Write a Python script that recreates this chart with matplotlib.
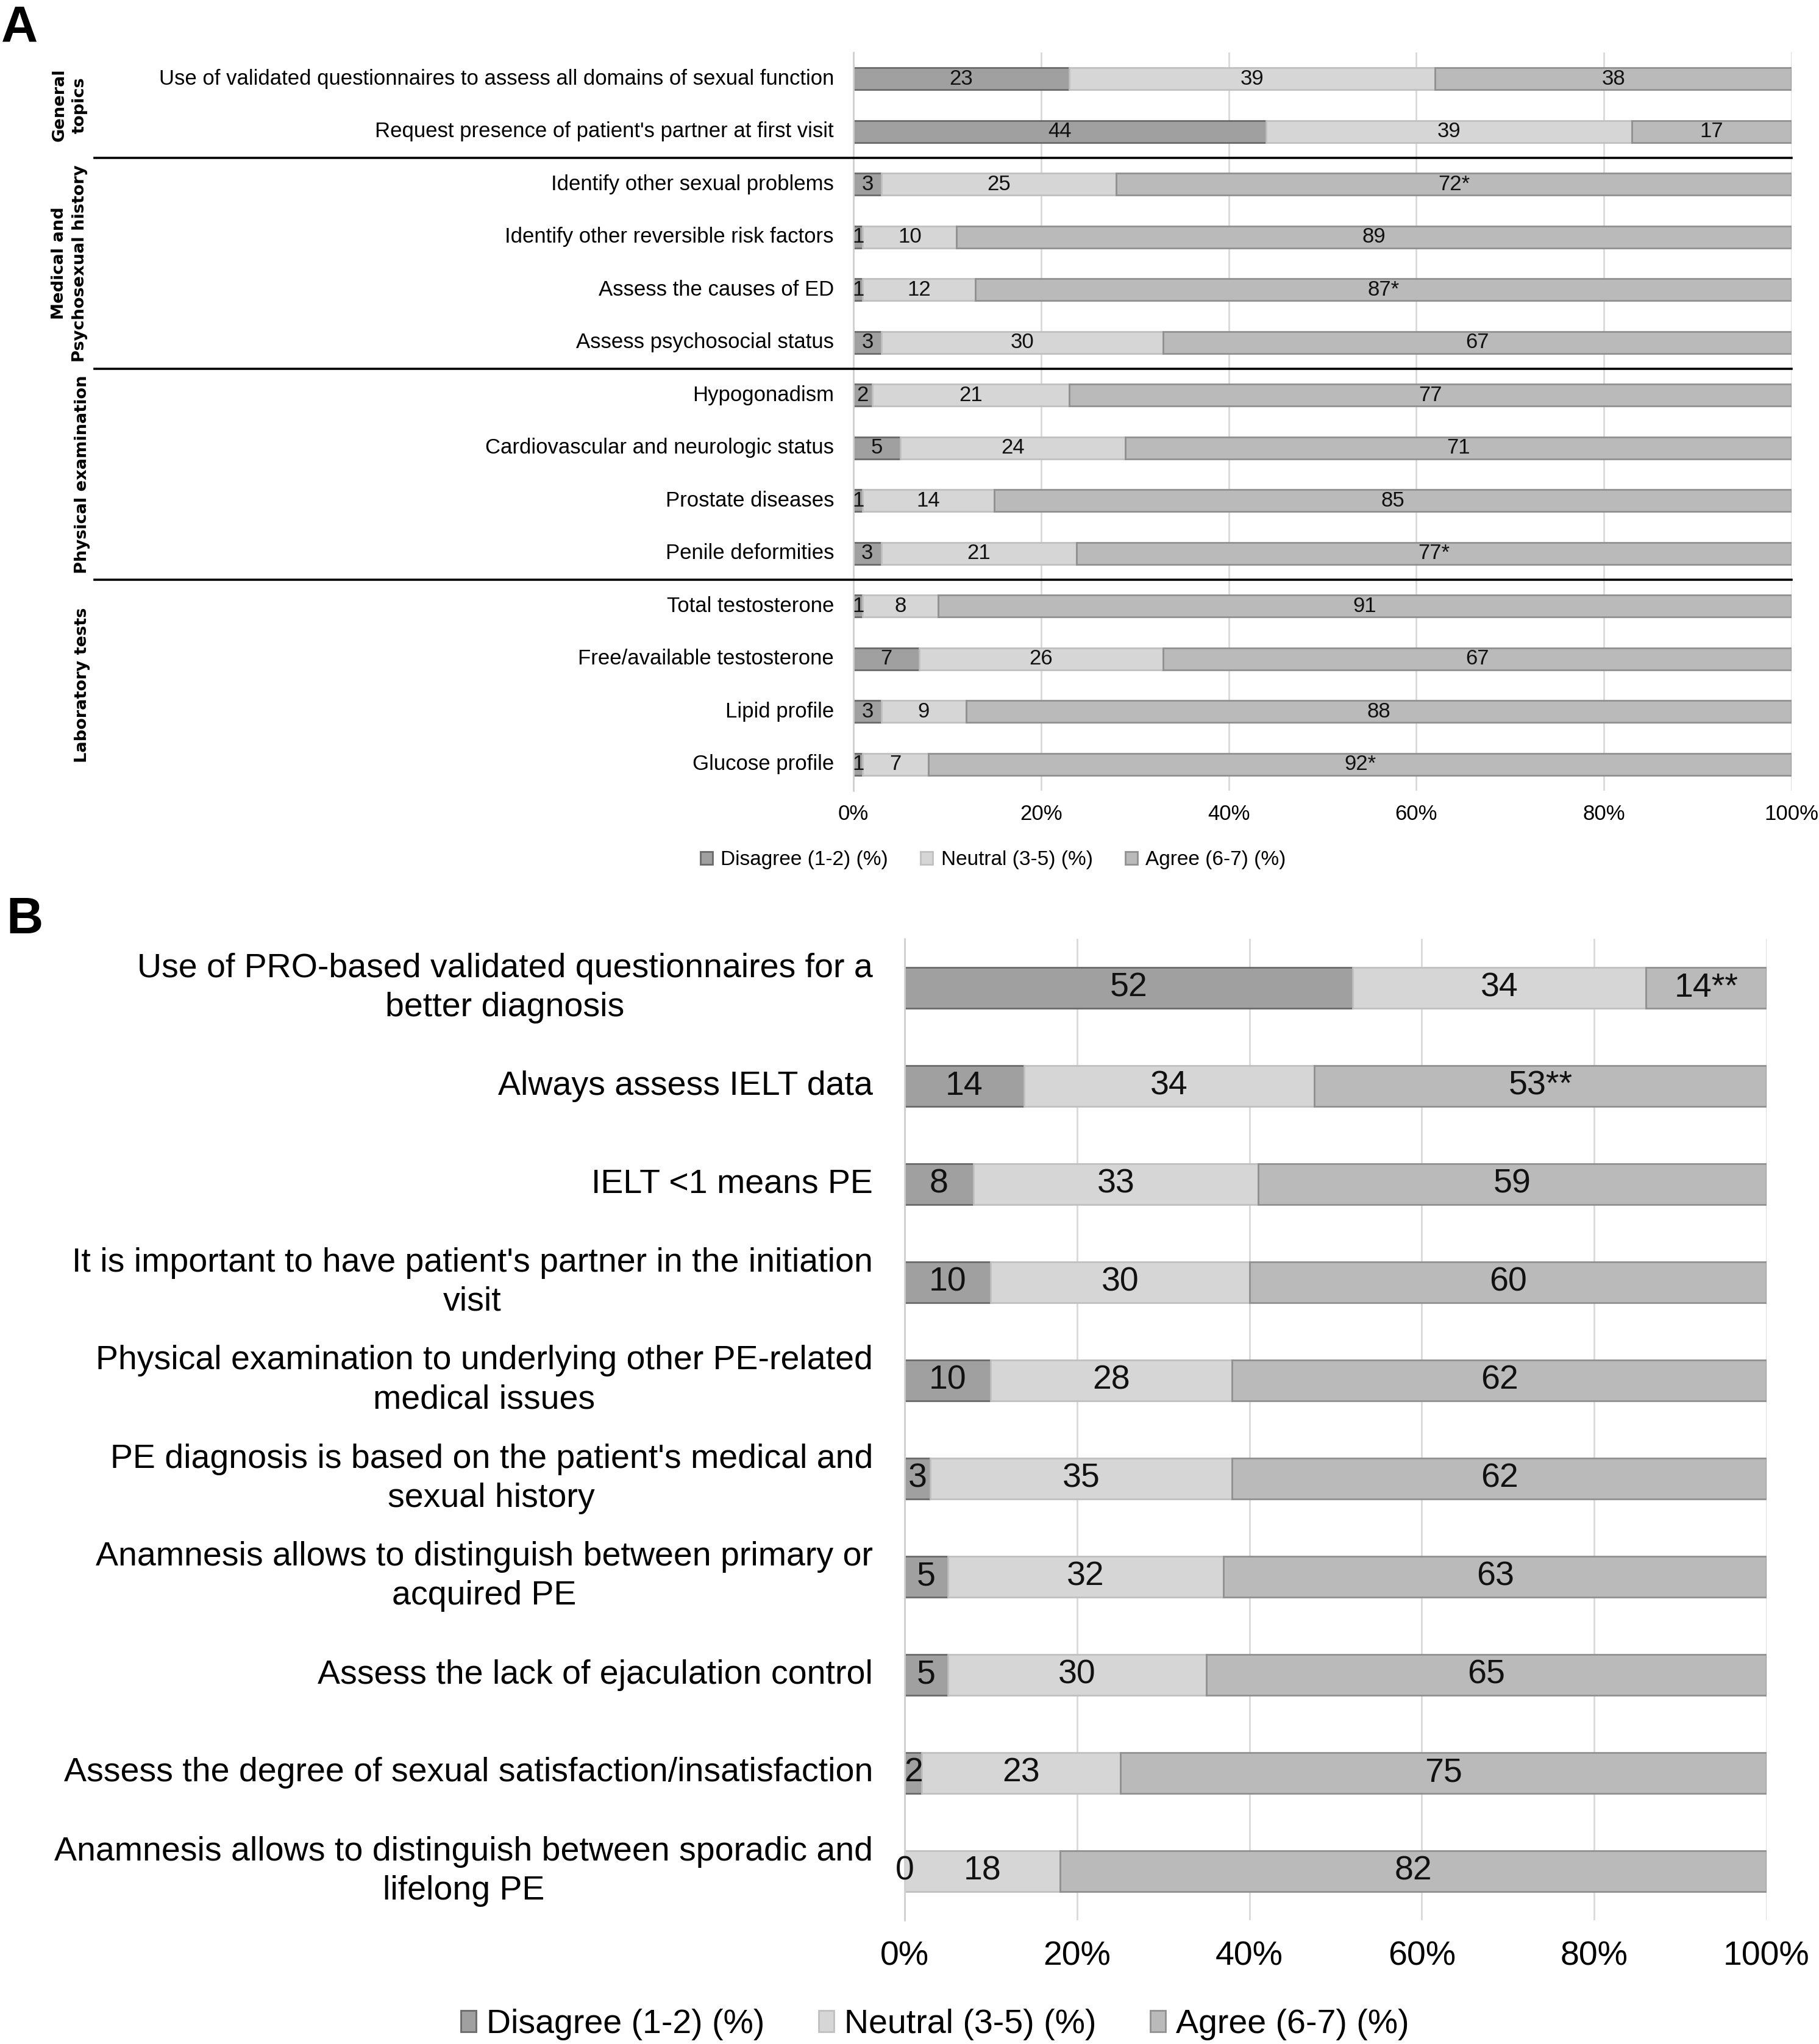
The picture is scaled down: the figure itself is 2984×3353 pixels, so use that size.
import matplotlib.pyplot as plt
from matplotlib.patches import Patch
import numpy as np

W, H = 2984, 3353
DPI = 200

series = ['Disagree (1-2) (%)', 'Neutral (3-5) (%)', 'Agree (6-7) (%)']
colors = ['#a0a0a0', '#d6d6d6', '#bababa']
edges = ['#6a6a6a', '#c0c0c0', '#909090']

# Panel A
a_labels = [
    'Use of validated questionnaires to assess all domains of sexual function',
    "Request presence of patient's partner at first visit",
    'Identify other sexual problems',
    'Identify other reversible risk factors',
    'Assess the causes of ED',
    'Assess psychosocial status',
    'Hypogonadism',
    'Cardiovascular and neurologic status',
    'Prostate diseases',
    'Penile deformities',
    'Total testosterone',
    'Free/available testosterone',
    'Lipid profile',
    'Glucose profile',
]
a_disagree = [23, 44, 3, 1, 1, 3, 2, 5, 1, 3, 1, 7, 3, 1]
a_neutral = [39, 39, 25, 10, 12, 30, 21, 24, 14, 21, 8, 26, 9, 7]
a_agree = [38, 17, 72, 89, 87, 67, 77, 71, 85, 77, 91, 67, 88, 92]
a_marks = ['', '', '*', '', '*', '', '', '', '', '*', '', '', '', '*']
a_groups = ['General\ntopics', 'Medical and\nPsychosexual history',
            'Physical examination', 'Laboratory tests']
a_group_rows = [(0, 1), (2, 5), (6, 9), (10, 13)]

# Panel B
b_labels = [
    'Use of PRO-based validated questionnaires for a\nbetter diagnosis',
    'Always assess IELT data',
    'IELT <1 means PE',
    "It is important to have patient's partner in the initiation\nvisit",
    'Physical examination to underlying other PE-related\nmedical issues',
    "PE diagnosis is based on the patient's medical and\nsexual history",
    'Anamnesis allows to distinguish between primary or\nacquired PE',
    'Assess the lack of ejaculation control',
    'Assess the degree of sexual satisfaction/insatisfaction',
    'Anamnesis allows to distinguish between sporadic and\nlifelong PE',
]
b_disagree = [52, 14, 8, 10, 10, 3, 5, 5, 2, 0]
b_neutral = [34, 34, 33, 30, 28, 35, 32, 30, 23, 18]
b_agree = [14, 53, 59, 60, 62, 62, 63, 65, 75, 82]
b_marks = ['**', '**', '', '', '', '', '', '', '', '']

regular = ['Liberation Sans', 'DejaVu Sans']


def px(v):
    # pixels -> points
    return v * 72.0 / DPI


def draw_panel(ax, labels, vals, marks, fs, fam, ypad, xpad, lsp):
    vals = np.array(vals, dtype=float)
    pct = vals / vals.sum(axis=0) * 100  # 100% stacked, like the original
    y = np.arange(len(labels))
    left = np.zeros(len(labels))
    for i in range(3):
        ax.barh(y, pct[i], left=left, height=0.42, color=colors[i],
                edgecolor=edges[i], linewidth=1.0, zorder=2)
        for j in range(len(labels)):
            txt = '%d' % vals[i, j] + (marks[j] if i == 2 else '')
            ax.text(left[j] + pct[i, j] / 2, y[j], txt, ha='center', va='center',
                    fontsize=fs, family=fam, color='#111111', zorder=3)
        left += pct[i]
    ax.set_xlim(0, 100)
    ax.set_ylim(len(labels) - 0.5, -0.5)
    ax.set_yticks(y)
    ax.set_yticklabels(labels, fontsize=fs, family=fam)
    for t in ax.get_yticklabels():
        t.set_multialignment('center')
        t.set_verticalalignment('center')
        t.set_linespacing(lsp)
    ax.set_xticks([0, 20, 40, 60, 80, 100])
    ax.set_xticklabels(['0%', '20%', '40%', '60%', '80%', '100%'], fontsize=fs, family=fam)
    ax.tick_params(axis='y', length=0, pad=ypad)
    ax.tick_params(axis='x', length=0, pad=xpad)
    ax.xaxis.grid(True, color='#d9d9d9', linewidth=1.0)
    ax.set_axisbelow(True)
    for s in ['top', 'right', 'bottom']:
        ax.spines[s].set_visible(False)
    ax.spines['left'].set_color('#d0d0d0')
    ax.spines['left'].set_linewidth(1.0)


fig = plt.figure(figsize=(W / DPI, H / DPI), dpi=DPI)

# ---- Panel A ----
axA = fig.add_axes([1400 / W, 1 - 1297 / H, 1539 / W, 1211 / H])
draw_panel(axA, a_labels, [a_disagree, a_neutral, a_agree], a_marks,
           12.5, regular, px(32), px(22), 1.2)

# group separators and group titles
for k, (r0, r1) in enumerate(a_group_rows):
    if k > 0:
        axA.plot([(155 - 1400) / 1539, 1], [r0 - 0.5, r0 - 0.5], color='black',
                 linewidth=1.3, transform=axA.get_yaxis_transform(), clip_on=False, zorder=4)
    two = '\n' in a_groups[k]
    xg = ((114 if two else 135) - 1400) / 1539
    axA.text(xg, (r0 + r1) / 2, a_groups[k], rotation=90, ha='center', va='center',
             multialignment='center', fontsize=9.8, fontweight='bold', family='DejaVu Sans',
             linespacing=1.35, transform=axA.get_yaxis_transform())

handles = [Patch(facecolor=colors[i], edgecolor=edges[i], linewidth=1.0) for i in range(3)]
fig.legend(handles, series, loc='center', bbox_to_anchor=(0.546, 1 - 1411 / H), ncol=3,
           frameon=False, prop={'family': regular, 'size': 12}, handlelength=0.6,
           handleheight=0.6, handletextpad=0.4, columnspacing=1.6)

# ---- Panel B ----
axB = fig.add_axes([1484 / W, 1 - 3150 / H, 1414 / W, 1610 / H])
draw_panel(axB, b_labels, [b_disagree, b_neutral, b_agree], b_marks,
           20, regular, px(52), px(34), 1.3)

fig.legend(handles, series, loc='center', bbox_to_anchor=(0.514, 1 - 3321 / H), ncol=3,
           frameon=False, prop={'family': regular, 'size': 20}, handlelength=0.45,
           handleheight=0.6, handletextpad=0.3, columnspacing=1.6)

# panel letters
fig.text(2 / W, 1 - 8 / H, 'A', fontsize=30, fontweight='bold', family=regular, va='top', ha='left')
fig.text(10 / W, 1 - 1470 / H, 'B', fontsize=30, fontweight='bold', family=regular, va='top', ha='left')

fig.savefig('out.png', dpi=DPI, facecolor='white')
